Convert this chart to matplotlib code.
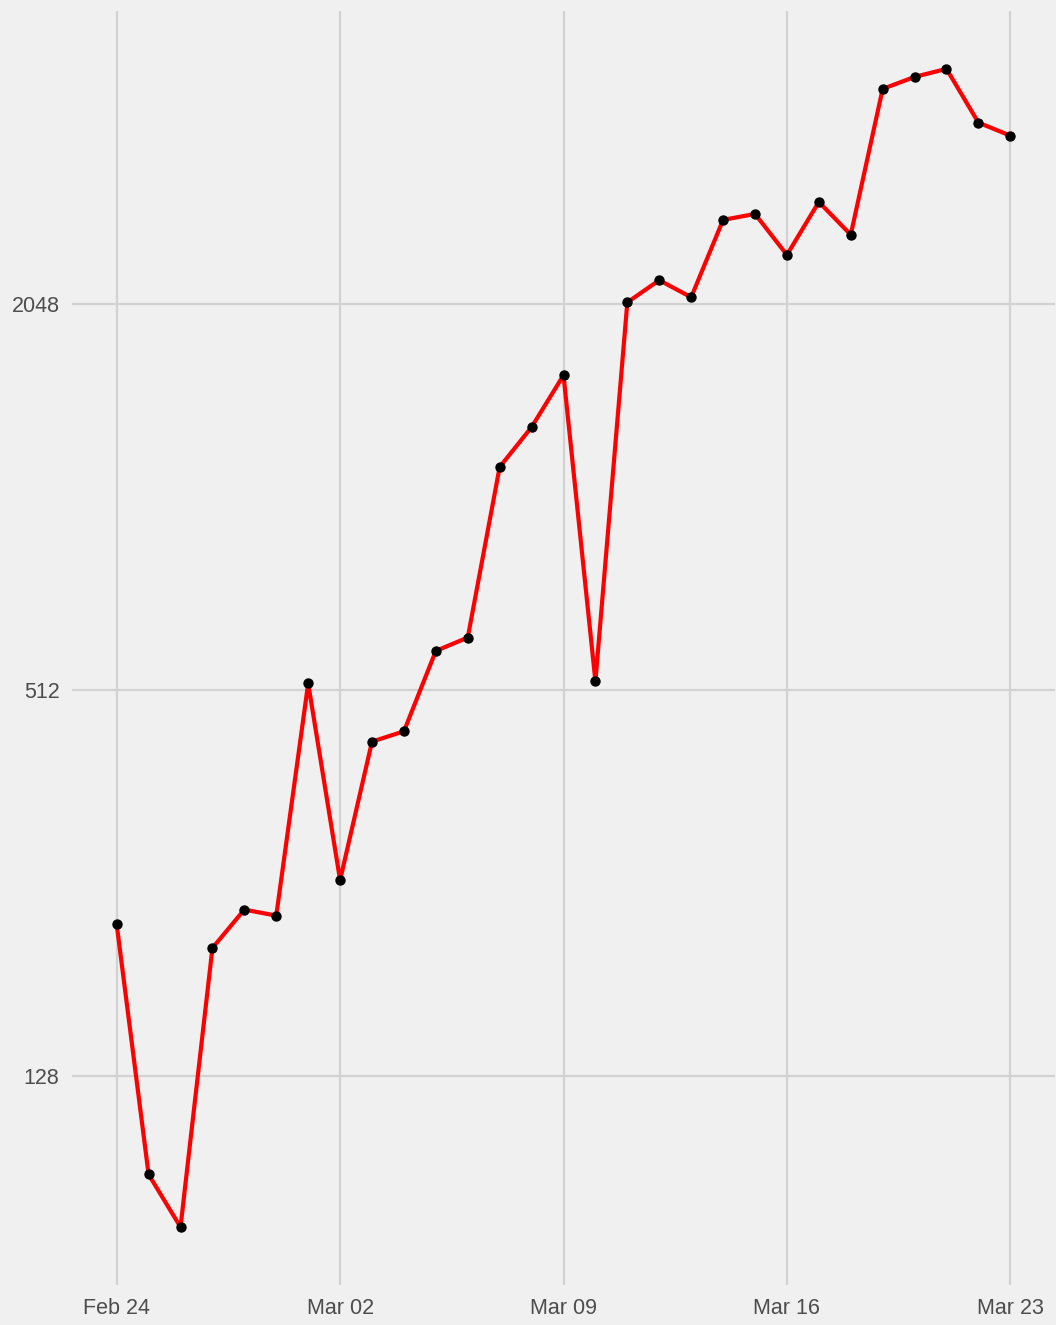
import numpy as np
import pandas as pd
import matplotlib
matplotlib.use("Agg")
import matplotlib.pyplot as plt
import matplotlib.dates as mdates

# daily values (log2 y axis)
dates = pd.date_range("2020-02-24", "2020-03-23", freq="D")
values = [221, 90, 74.5, 203, 233, 228, 525, 259, 426, 442,
          590, 619, 1142, 1318, 1588, 529, 2063, 2234, 2101, 2774,
          2834, 2446, 2959, 2630, 4440, 4636, 4771, 3934, 3754]
y_ticks = [128, 512, 2048]
x_ticks = ["2020-02-24", "2020-03-02", "2020-03-09", "2020-03-16", "2020-03-23"]

plt.rcParams["font.family"] = ["Liberation Sans", "DejaVu Sans"]
bg = "#F0F0F0"
grid = "#D2D2D2"

fig = plt.figure(figsize=(10.56, 13.25), dpi=100, facecolor=bg)
ax = fig.add_axes([72 / 1056, 40 / 1325, (1055 - 72) / 1056, (1314 - 40) / 1325])
ax.set_facecolor(bg)

ax.plot(dates, values, color="red", lw=3, zorder=3)
ax.scatter(dates, values, color="black", s=42, zorder=4)

ax.set_yscale("log", base=2)
lv = np.log2(values)
pad = 0.05 * (lv.max() - lv.min())
ax.set_ylim(2 ** (lv.min() - pad), 2 ** (lv.max() + pad))
ax.set_yticks(y_ticks)
ax.set_yticklabels([str(t) for t in y_ticks])
ax.yaxis.set_minor_locator(plt.NullLocator())

xt = pd.to_datetime(x_ticks)
ax.set_xticks(xt)
ax.xaxis.set_major_formatter(mdates.DateFormatter("%b %d"))
span = dates[-1] - dates[0]
ax.set_xlim(dates[0] - 0.05 * span, dates[-1] + 0.05 * span)

ax.grid(True, color=grid, lw=1.6)
ax.set_axisbelow(True)
for s in ax.spines.values():
    s.set_visible(False)
ax.tick_params(length=0, labelsize=15.5, colors="#4D4D4D", pad=9)

fig.savefig("out.png", dpi=100, facecolor=bg)
